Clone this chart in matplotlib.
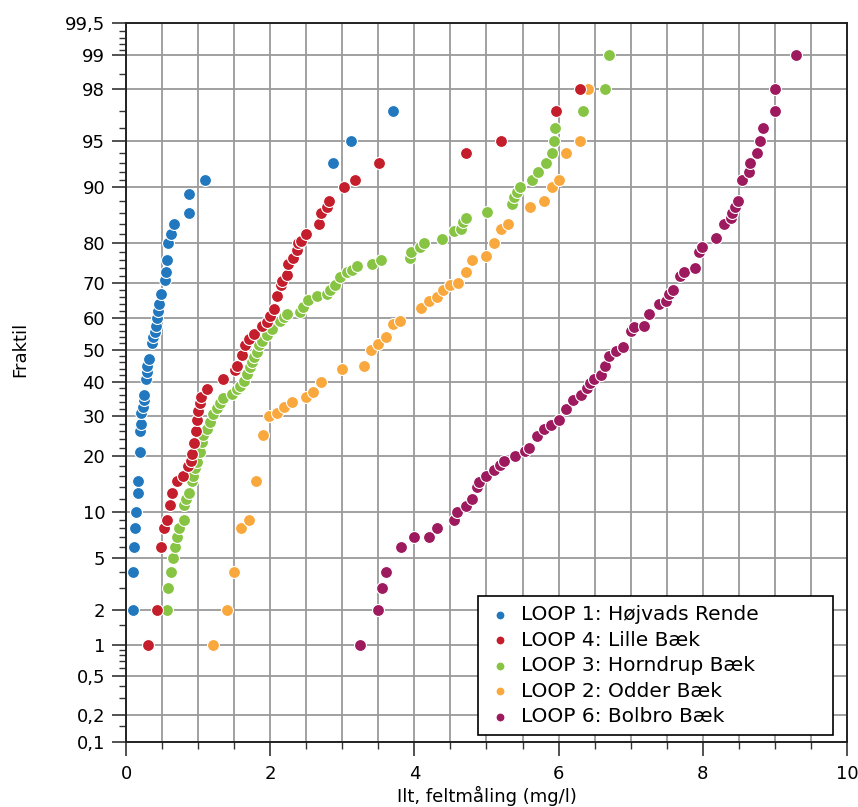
import numpy as np
import matplotlib
matplotlib.use('Agg')
import matplotlib.pyplot as plt
from statistics import NormalDist

# ------------------------------------------------------------------
# Data: oxygen (mg/l) and plotting percentile
# ------------------------------------------------------------------
loop1_ilt = [0.09, 0.09, 0.11, 0.125, 0.135, 0.16, 0.17, 0.19, 0.19, 0.21, 0.21, 0.23, 0.25, 0.25,
             0.28, 0.285, 0.295, 0.32, 0.36, 0.38, 0.40, 0.42, 0.435, 0.45, 0.46, 0.48, 0.54, 0.555,
             0.565, 0.58, 0.62, 0.67, 0.875, 0.88, 1.09, 2.87, 3.12, 3.70]
loop1_fraktil = [2, 4, 6, 8, 10, 13, 15, 21, 26, 28, 31, 32.5, 34.5, 36,
                 41, 43, 45, 47, 52, 54, 55.5, 57.5, 60, 62, 64, 67, 71, 73,
                 76, 80, 82, 84, 86, 89, 91, 93, 95, 97]

loop4_ilt = [0.31, 0.435, 0.48, 0.53, 0.57, 0.61, 0.635, 0.70, 0.79, 0.865, 0.90, 0.91, 0.94, 0.97,
             0.98, 1.0, 1.03, 1.04, 1.12, 1.35, 1.51, 1.54, 1.61, 1.65, 1.70, 1.77, 1.88, 1.95,
             2.0, 2.05, 2.09, 2.15, 2.17, 2.23, 2.24, 2.31, 2.37, 2.39, 2.43, 2.50, 2.67, 2.70,
             2.79, 2.81, 3.03, 3.17, 3.51, 4.72, 5.20, 5.96, 6.30]
loop4_fraktil = [1, 2, 6, 8, 9, 11, 13, 15, 16, 18, 19, 20.6, 23, 26,
                 29, 31.5, 33.8, 35.5, 37.8, 41, 43.5, 45, 48.2, 51.4, 53.5, 55, 57.5, 58.5,
                 60.6, 62.6, 66.3, 69.5, 70.5, 72.3, 75, 76.5, 78.5, 80, 80.5, 82, 84, 86,
                 87, 88, 90, 91, 93, 94, 95, 97, 98]

loop3_ilt = [0.565, 0.58, 0.625, 0.645, 0.685, 0.71, 0.74, 0.80, 0.81, 0.83, 0.875, 0.91, 0.935,
             0.96, 0.98, 1.03, 1.05, 1.07, 1.12, 1.17, 1.21, 1.26, 1.31, 1.35, 1.47, 1.54, 1.58,
             1.63, 1.68, 1.72, 1.75, 1.77, 1.81, 1.84, 1.88, 1.95, 2.02, 2.14, 2.19, 2.23, 2.42,
             2.46, 2.53, 2.65, 2.79, 2.83, 2.90, 2.97, 3.06, 3.13, 3.20, 3.41, 3.54, 3.94, 3.95,
             4.08, 4.14, 4.38, 4.55, 4.64, 4.68, 4.72, 5.01, 5.36, 5.38, 5.43, 5.47, 5.63, 5.71,
             5.82, 5.91, 5.94, 5.95, 6.34, 6.65, 6.70]
loop3_fraktil = [2, 3, 4, 5, 6, 7, 8, 9, 11, 12, 13, 15, 16,
                 17.6, 18.8, 21, 23.3, 25, 26.6, 28.5, 30.5, 32.3, 33.8, 35.3, 36.3, 37.8, 38.8,
                 40.4, 42.5, 44.6, 46, 47.7, 49.2, 51.4, 52.9, 54.5, 56.6, 59, 60.2, 61.2, 61.7,
                 63.3, 65.3, 66.3, 67, 68, 69.5, 71.6, 73, 73.5, 74.6, 75, 76, 76.5, 78,
                 79, 80, 80.9, 82.5, 83, 84.3, 85, 86.2, 87.5, 88.5, 89.3, 90, 91, 92,
                 93, 94, 95, 96, 97, 98, 99]

loop2_ilt = [1.20, 1.40, 1.50, 1.60, 1.71, 1.80, 1.90, 1.99, 2.09, 2.19, 2.30, 2.49, 2.60, 2.70,
             3.0, 3.30, 3.40, 3.49, 3.60, 3.70, 3.80, 4.09, 4.20, 4.31, 4.40, 4.50, 4.60, 4.71,
             4.80, 5.0, 5.10, 5.20, 5.30, 5.60, 5.80, 5.91, 6.0, 6.10, 6.30, 6.41]
loop2_fraktil = [1, 2, 4, 8, 9, 15, 25, 30, 31, 32.5, 34, 35.5, 36.8, 40,
                 44, 45, 50, 51.7, 54, 58, 59, 63, 65, 66, 68, 69.5, 70, 73,
                 76, 77, 80, 83, 84, 87, 88, 90, 91, 94, 95, 98]

loop6_ilt = [3.25, 3.50, 3.55, 3.61, 3.81, 4.0, 4.20, 4.31, 4.55, 4.59, 4.71, 4.80, 4.87, 4.89,
             4.99, 5.10, 5.19, 5.24, 5.40, 5.54, 5.59, 5.70, 5.80, 5.89, 6.00, 6.10, 6.20, 6.31,
             6.40, 6.44, 6.49, 6.59, 6.65, 6.70, 6.79, 6.90, 7.0, 7.05, 7.19, 7.25, 7.39, 7.49,
             7.53, 7.59, 7.69, 7.74, 7.89, 7.95, 7.99, 8.19, 8.30, 8.39, 8.41, 8.45, 8.49, 8.54,
             8.64, 8.66, 8.75, 8.80, 8.84, 9.0, 9.0, 9.29]
loop6_fraktil = [1, 2, 3, 4, 6, 7, 7, 8, 9, 10, 10.9, 11.9, 13.9, 14.8,
                 15.9, 17.1, 18.1, 19, 20, 21.3, 22, 24.8, 26.5, 27.7, 29, 32, 34.5, 36,
                 38, 39.6, 41, 42, 45, 47.9, 49.7, 51, 56, 57, 57.5, 61.2, 64, 65,
                 67, 68, 72, 73, 74, 78, 79, 81, 84, 85, 86, 87, 88, 91,
                 92, 93, 94, 95, 96, 97, 98, 99]

serier = [
    ('LOOP 1: Højvads Rende', loop1_ilt, loop1_fraktil, '#2278be'),
    ('LOOP 4: Lille Bæk', loop4_ilt, loop4_fraktil, '#c41e2d'),
    ('LOOP 3: Horndrup Bæk', loop3_ilt, loop3_fraktil, '#88c443'),
    ('LOOP 2: Odder Bæk', loop2_ilt, loop2_fraktil, '#f8a83c'),
    ('LOOP 6: Bolbro Bæk', loop6_ilt, loop6_fraktil, '#9d1a5f'),
]
zorders = [7, 6, 5, 4, 3]

y_major = [0.1, 0.2, 0.5, 1, 2, 5, 10, 20, 30, 40, 50, 60, 70, 80, 90, 95, 98, 99, 99.5]
y_minor = [0.15, 0.3, 0.4, 0.6, 0.7, 0.8, 0.9, 1.5, 3, 4, 6, 7, 8, 9,
           12, 14, 16, 18, 22, 24, 26, 28, 32, 34, 36, 38, 42, 44, 46, 48,
           52, 54, 56, 58, 62, 64, 66, 68, 72, 74, 76, 78, 82, 84, 86, 88,
           91, 92, 93, 94, 96, 97, 98.5, 99.1, 99.2, 99.3, 99.4]

# ------------------------------------------------------------------
# Normal probability scale for the y axis
# ------------------------------------------------------------------
_nd = NormalDist()


def til_z(p):
    q = np.clip(np.asarray(p, dtype=float) / 100.0, 1e-9, 1 - 1e-9)
    return np.vectorize(_nd.inv_cdf, otypes=[float])(q)


def fra_z(z):
    return np.vectorize(_nd.cdf, otypes=[float])(np.asarray(z, dtype=float)) * 100.0


plt.rcParams['font.family'] = ['DejaVu Sans']
plt.rcParams['font.size'] = 13

fig = plt.figure(figsize=(8.58, 8.07), dpi=100)
ax = fig.add_axes([0.1469, 0.0809, 0.8402, 0.8906])
ax.set_yscale('function', functions=(til_z, fra_z))

for (navn, x, y, farve), zo in zip(serier, zorders):
    ax.scatter(x, y, s=74, color=farve, edgecolors='white', linewidths=0.8,
               label=navn, zorder=zo)

ax.set_xlim(0, 10)
ax.set_ylim(0.1, 99.5)
ax.set_xticks(np.arange(0, 11, 2))
ax.set_xticks(np.arange(0, 10.01, 0.5), minor=True)
ax.set_yticks(y_major)
ax.set_yticklabels([('%g' % v).replace('.', ',') for v in y_major])
ax.set_yticks(y_minor, minor=True)
ax.yaxis.set_minor_formatter(plt.NullFormatter())

ax.grid(True, axis='x', which='both', color='#9a9a9a', linewidth=1.3, zorder=0)
ax.grid(True, axis='y', which='major', color='#9a9a9a', linewidth=1.3, zorder=0)
ax.set_axisbelow(True)

ax.tick_params(axis='both', which='major', direction='out', length=10, width=1.2,
               labelsize=13, color='#333333')
ax.tick_params(axis='both', which='minor', direction='out', length=5, width=1.0, color='#333333')
ax.tick_params(axis='x', which='major', pad=7)
ax.tick_params(axis='y', which='major', pad=5)
for side in ax.spines.values():
    side.set_color('#222222')
    side.set_linewidth(1.4)

ax.set_xlabel('Ilt, feltmåling (mg/l)', fontsize=13, labelpad=2)
ax.text(-0.159, 50, 'Fraktil', rotation=90, fontsize=13, ha='left', va='center',
        transform=ax.get_yaxis_transform())

leg = ax.legend(loc='lower left', bbox_to_anchor=(0.488, 0.0093, 0.4926, 0.2),
                mode='expand', borderaxespad=0,
                fancybox=False, framealpha=1, edgecolor='black', fontsize=14.5,
                markerscale=0.75, handletextpad=0.4, labelspacing=0.32,
                borderpad=0.45, handlelength=1.3)
leg.get_frame().set_linewidth(1.2)
leg.set_zorder(10)

fig.savefig('out.png', dpi=100)
